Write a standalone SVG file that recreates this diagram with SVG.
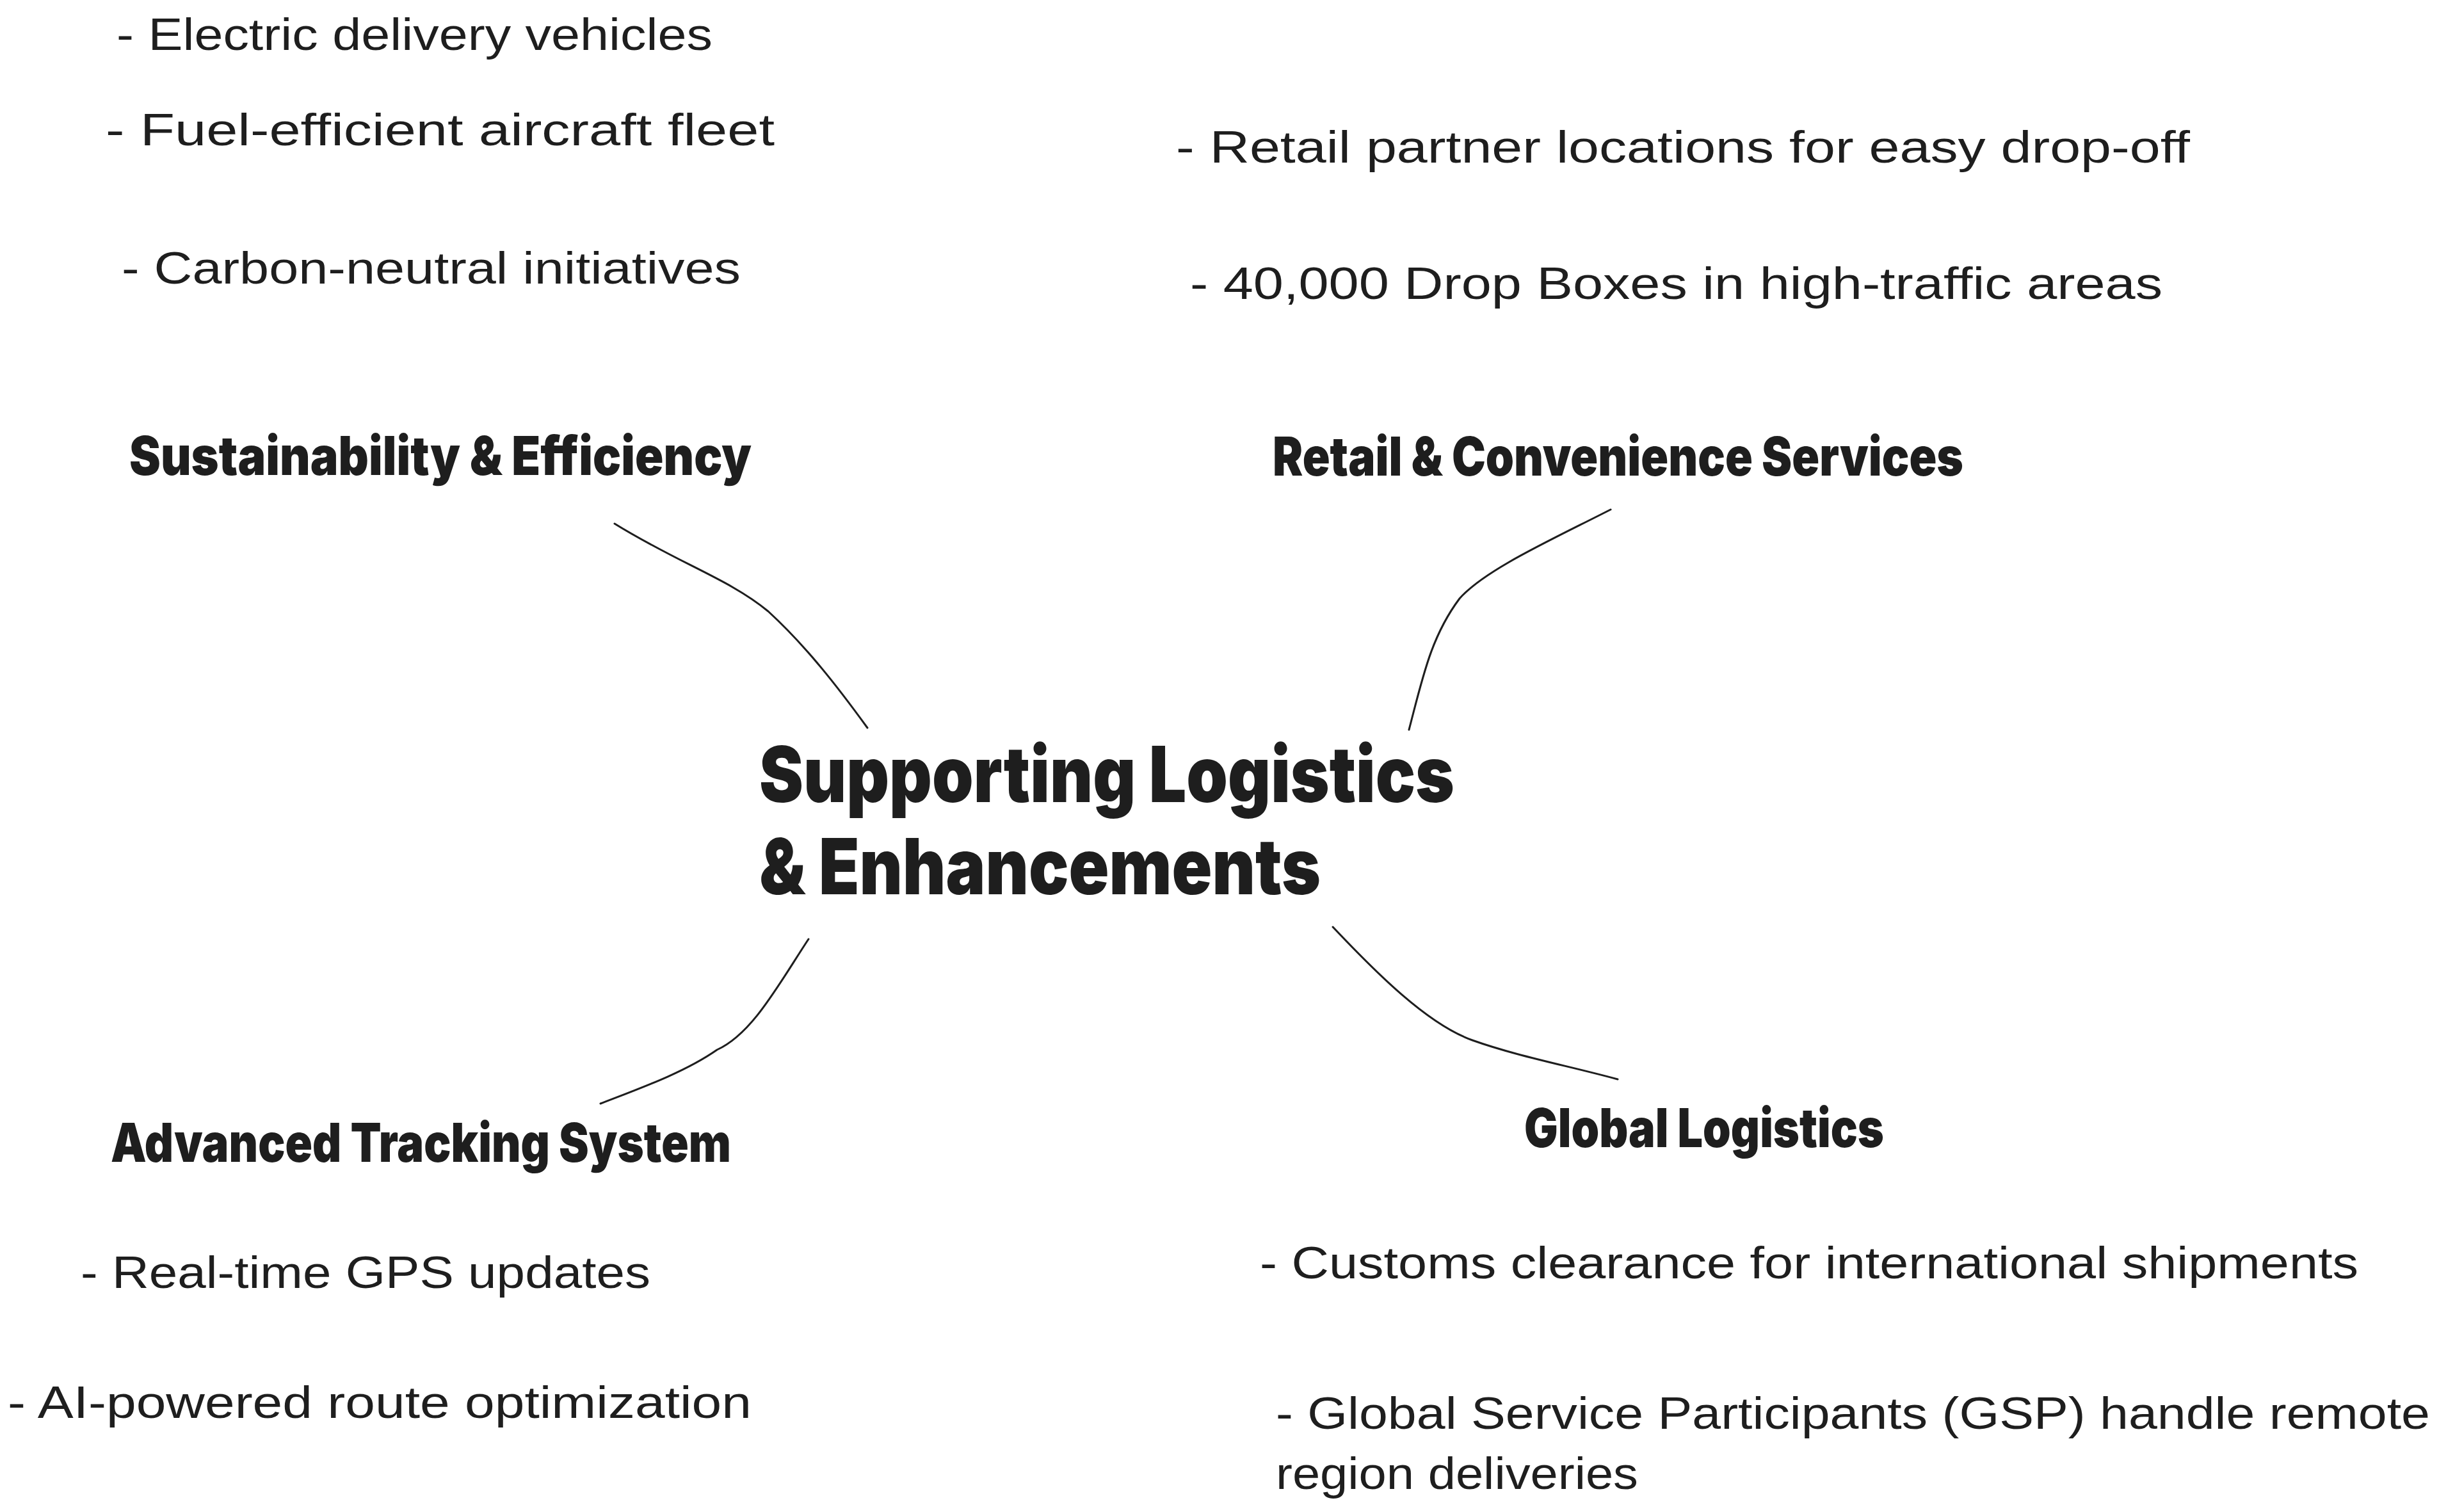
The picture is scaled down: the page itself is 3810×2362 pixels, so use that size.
<svg xmlns="http://www.w3.org/2000/svg" width="3810" height="2362" viewBox="0 0 3810 2362">
<style>
.bg{fill:#ffffff}
.item{font-family:"Liberation Sans","Noto Sans",sans-serif;font-size:70px;fill:#1e1e1e}
.head{font-family:Inter,"Open Sans",sans-serif;font-weight:900;font-size:84px;fill:#1e1e1e}
.title{font-family:Inter,"Open Sans",sans-serif;font-weight:900;font-size:121px;fill:#1e1e1e}
.link{fill:none;stroke:#1e1e1e;stroke-width:3;stroke-linecap:round}
</style>
<rect class="bg" x="0" y="0" width="3810" height="2362"/>
<g id="connectors">
<path class="link" d="M960,818 C1060,880 1140,905 1200,955 C1260,1010 1310,1075 1355,1137"/>
<path class="link" d="M2516,796 C2420,845 2320,890 2280,935 C2235,995 2222,1060 2201,1140"/>
<path class="link" d="M1263,1467 C1215,1540 1175,1615 1120,1640 C1070,1675 1000,1700 938,1724"/>
<path class="link" d="M2082,1448 C2150,1520 2230,1600 2300,1625 C2370,1650 2450,1665 2527,1686"/>
</g>
<g id="center">
<text class="title" x="1186" y="1253" textLength="1086" lengthAdjust="spacingAndGlyphs">Supporting Logistics</text>
<text class="title" x="1186" y="1397" textLength="877" lengthAdjust="spacingAndGlyphs">&amp; Enhancements</text>
</g>
<g id="sustainability">
<text class="head" x="202" y="742" textLength="972" lengthAdjust="spacingAndGlyphs">Sustainability &amp; Efficiency</text>
<text class="item" x="182" y="78" textLength="931" lengthAdjust="spacingAndGlyphs">- Electric delivery vehicles</text>
<text class="item" x="165" y="227" textLength="1045" lengthAdjust="spacingAndGlyphs">- Fuel-efficient aircraft fleet</text>
<text class="item" x="190" y="443" textLength="967" lengthAdjust="spacingAndGlyphs">- Carbon-neutral initiatives</text>
</g>
<g id="retail">
<text class="head" x="1988" y="743" textLength="1079" lengthAdjust="spacingAndGlyphs">Retail &amp; Convenience Services</text>
<text class="item" x="1837" y="254" textLength="1584" lengthAdjust="spacingAndGlyphs">- Retail partner locations for easy drop-off</text>
<text class="item" x="1859" y="467" textLength="1519" lengthAdjust="spacingAndGlyphs">- 40,000 Drop Boxes in high-traffic areas</text>
</g>
<g id="tracking">
<text class="head" x="173" y="1815" textLength="969" lengthAdjust="spacingAndGlyphs">Advanced Tracking System</text>
<text class="item" x="126" y="2012" textLength="890" lengthAdjust="spacingAndGlyphs">- Real-time GPS updates</text>
<text class="item" x="12" y="2215" textLength="1162" lengthAdjust="spacingAndGlyphs">- AI-powered route optimization</text>
</g>
<g id="global">
<text class="head" x="2381" y="1792" textLength="562" lengthAdjust="spacingAndGlyphs">Global Logistics</text>
<text class="item" x="1968" y="1997" textLength="1716" lengthAdjust="spacingAndGlyphs">- Customs clearance for international shipments</text>
<text class="item" x="1993" y="2232" textLength="1803" lengthAdjust="spacingAndGlyphs">- Global Service Participants (GSP) handle remote</text>
<text class="item" x="1993" y="2326" textLength="566" lengthAdjust="spacingAndGlyphs">region deliveries</text>
</g>
</svg>
